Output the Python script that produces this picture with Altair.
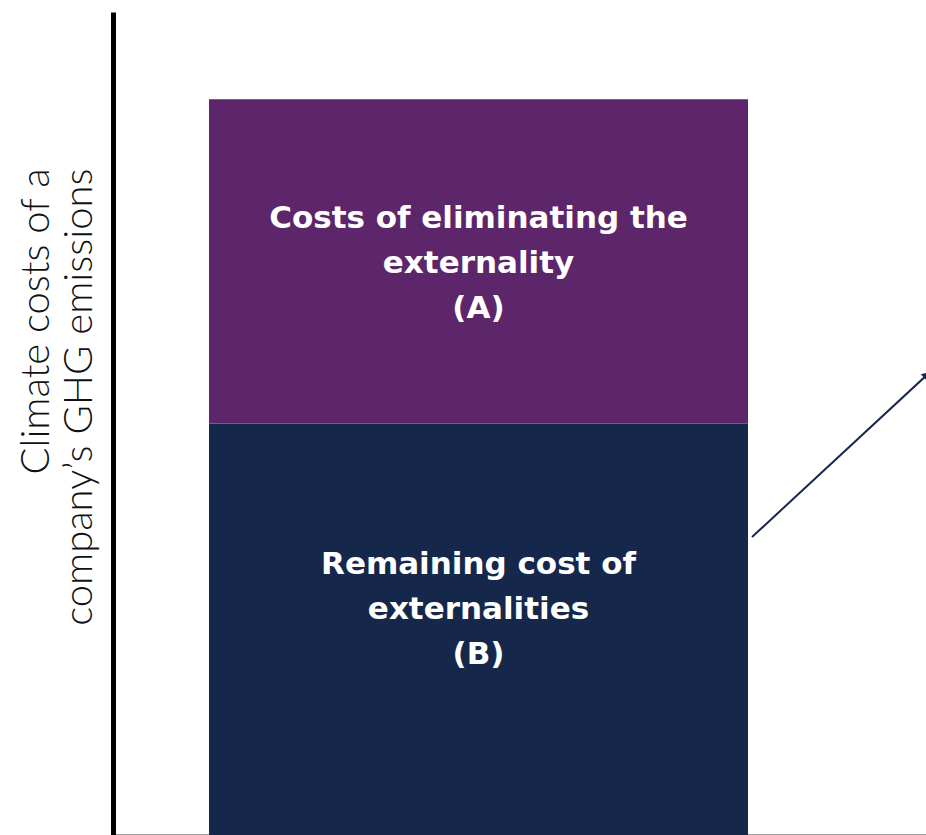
import altair as alt
import pandas as pd

# ---- data ----
categories = ["Company"]
segments = ["Remaining cost of externalities (B)", "Costs of eliminating the externality (A)"]
values = [50.0, 39.4]
stack_order = [0, 1]
labels = ["Remaining cost of\nexternalities\n(B)", "Costs of eliminating the\nexternality\n(A)"]
label_y = [27.7, 69.7]
colors = ["#15284B", "#5E266A"]
arrow_x = [78.6, 100.0]
arrow_y = [36.2, 55.8]
y_title = ["Climate costs of a", "company\u2019s GHG emissions"]

bars_df = pd.DataFrame({
    "category": categories * len(segments),
    "segment": segments,
    "value": values,
    "order": stack_order,
    "label": labels,
    "label_y": label_y,
})
arrow_df = pd.DataFrame({"x": [arrow_x[0]], "x2": [arrow_x[1]], "y": [arrow_y[0]], "y2": [arrow_y[1]]})
head_df = pd.DataFrame({"x": [arrow_x[1]], "y": [arrow_y[1]]})

W, H = 813, 823
TITLE_FONT = "Lato"
LABEL_FONT = "DejaVu Sans"

xband = alt.X("category:N",
              scale=alt.Scale(paddingInner=0, paddingOuter=0.2542, align=0.3504),
              axis=alt.Axis(title=None, labels=False, ticks=False, domain=True,
                            domainColor="#444444", domainWidth=2))
yscale = alt.Scale(domain=[0, 100], nice=False, zero=True)

base = alt.Chart(bars_df)

bars = base.mark_bar(stroke=None).encode(
    x=xband,
    y=alt.Y("value:Q", stack="zero", scale=yscale,
            axis=alt.Axis(title=y_title, labels=False, ticks=False, grid=False,
                          domain=True, domainColor="black", domainWidth=5,
                          titleFont=TITLE_FONT, titleFontSize=40, titleFontWeight=300,
                          titleColor="#111111", titleLineHeight=43, titlePadding=14,
                          titleAlign="right", titleY=156)),
    color=alt.Color("segment:N", scale=alt.Scale(domain=segments, range=colors), legend=None),
    order=alt.Order("order:Q"),
)

texts = base.mark_text(lineBreak="\n", lineHeight=45, font=LABEL_FONT, fontSize=31,
                       fontWeight="bold", color="white", align="center",
                       baseline="middle", dy=-42).encode(
    x=xband,
    y=alt.Y("label_y:Q", scale=yscale),
    text="label:N",
)

xq = alt.X("x:Q", scale=alt.Scale(domain=[0, 100], nice=False), axis=None)

arrow = alt.Chart(arrow_df).mark_rule(color="#15284B", strokeWidth=2).encode(
    x=xq, x2="x2:Q", y=alt.Y("y:Q", scale=yscale), y2="y2:Q"
)
head = alt.Chart(head_df).mark_point(shape="triangle", filled=True, angle=47,
                                     size=90, color="#15284B", opacity=1).encode(
    x=xq, y=alt.Y("y:Q", scale=yscale)
)

inner = alt.layer(bars, texts)
annot = alt.layer(arrow, head)

chart = alt.layer(inner, annot).resolve_scale(x="independent").properties(
    width=W, height=H,
    autosize=alt.AutoSizeParams(type="none"),
    padding={"left": 113, "top": 12, "right": 0, "bottom": 0},
    background="white",
).configure_view(stroke=None)

chart.save("out.html", embed_options={"renderer": "svg", "actions": False})
